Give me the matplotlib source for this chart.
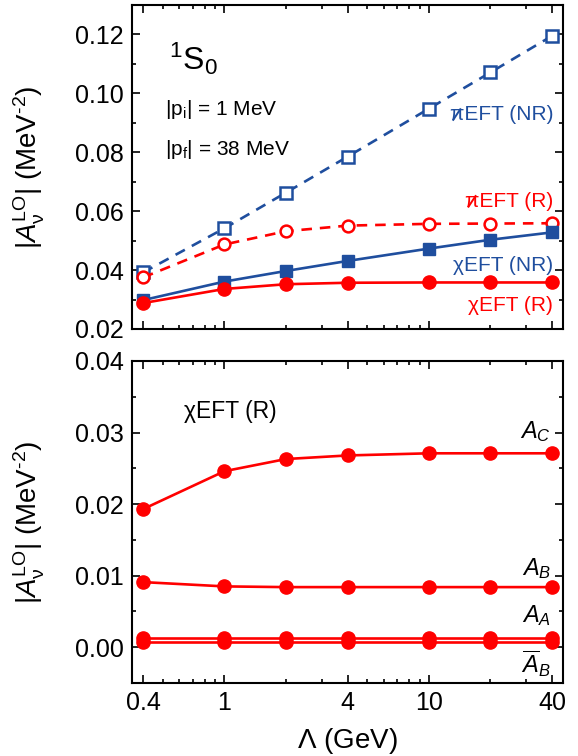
import matplotlib
matplotlib.use("Agg")
import matplotlib.pyplot as plt
from matplotlib.lines import Line2D
from matplotlib.transforms import IdentityTransform
from matplotlib.ticker import FixedLocator, LogLocator, MultipleLocator, NullFormatter, FixedFormatter, FuncFormatter

plt.rcParams['font.family'] = ['Liberation Sans', 'DejaVu Sans']
plt.rcParams['mathtext.fontset'] = 'custom'
plt.rcParams['mathtext.rm'] = 'Liberation Sans'
plt.rcParams['mathtext.it'] = 'Liberation Sans:italic'
plt.rcParams['mathtext.bf'] = 'Liberation Sans:bold'
plt.rcParams['axes.unicode_minus'] = False

# ---------------- data ----------------
lam = [0.4, 1, 2, 4, 10, 20, 40]

pionless_NR = [0.0392, 0.0542, 0.0663, 0.0785, 0.0948, 0.1071, 0.1195]
pionless_R = [0.0375, 0.0487, 0.0532, 0.0551, 0.0557, 0.0558, 0.0559]
chiral_NR = [0.0298, 0.0361, 0.0397, 0.0431, 0.0473, 0.0503, 0.0528]
chiral_R = [0.0288, 0.0336, 0.0352, 0.0357, 0.0358, 0.0358, 0.0358]

A_C = [0.0193, 0.0246, 0.0263, 0.0268, 0.0271, 0.0271, 0.0271]
A_B = [0.0091, 0.0085, 0.0084, 0.0084, 0.0084, 0.0084, 0.0084]
A_A = [0.0013, 0.0013, 0.0013, 0.0013, 0.0013, 0.0013, 0.0013]
Abar_B = [0.0007, 0.0007, 0.0007, 0.0007, 0.0007, 0.0007, 0.0007]

xticks = [0.4, 1, 4, 10, 40]
xticklabels = ['0.4', '1', '4', '10', '40']

RED = '#ff0000'
BLUE = '#1f4e9e'

fig = plt.figure(figsize=(5.78, 7.56), dpi=100)
W, H = 578, 756
ax1 = fig.add_axes([132 / W, 1 - 329 / H, 431 / W, 324 / H])
ax2 = fig.add_axes([132 / W, 1 - 683 / H, 431 / W, 322 / H])

lw = 1.9
ms = 9.5

# top panel
ax1.plot(lam, pionless_NR, ls=(0, (4, 3)), color=BLUE, lw=lw, marker='s', ms=8,
         mfc='white', mec=BLUE, mew=1.8, zorder=3)
ax1.plot(lam, pionless_R, ls=(0, (4, 3)), color=RED, lw=lw, marker='o', ms=8.5,
         mfc='white', mec=RED, mew=1.8, zorder=3)
ax1.plot(lam, chiral_NR, ls='-', color=BLUE, lw=lw, marker='s', ms=8.5,
         mfc=BLUE, mec=BLUE, zorder=4)
ax1.plot(lam, chiral_R, ls='-', color=RED, lw=lw, marker='o', ms=ms,
         mfc=RED, mec=RED, zorder=5)

# bottom panel
for s in (A_C, A_B, A_A, Abar_B):
    ax2.plot(lam, s, ls='-', color=RED, lw=lw, marker='o', ms=ms,
             mfc=RED, mec=RED, zorder=3)

ylab = r'$|A_{\mathrm{\nu}}^{\mathrm{LO}}|$ (MeV$^{\text{-2}}$)'
for ax in (ax1, ax2):
    ax.set_xscale('log')
    ax.set_xlim(0.353, 45.3)
    ax.xaxis.set_major_locator(FixedLocator(xticks))
    ax.xaxis.set_minor_locator(LogLocator(base=10, subs=[2, 3, 4, 5, 6, 7, 8, 9]))
    ax.xaxis.set_minor_formatter(NullFormatter())
    ax.tick_params(which='both', direction='in', top=True, right=True, width=1.2)
    ax.tick_params(which='major', length=6, labelsize=18, pad=6)
    ax.tick_params(which='minor', length=3)
    for sp in ax.spines.values():
        sp.set_linewidth(1.5)
    ax.set_ylabel(ylab, fontsize=20)
    ax.yaxis.set_label_coords(-0.197, 0.5)

ax1.xaxis.set_major_formatter(NullFormatter())
ax2.xaxis.set_major_formatter(FixedFormatter(xticklabels))

ax1.set_ylim(0.02, 0.13)
ax1.yaxis.set_major_locator(MultipleLocator(0.02))
ax1.yaxis.set_minor_locator(MultipleLocator(0.01))
ax1.yaxis.set_major_formatter(FuncFormatter(lambda v, p: f'{v:.2f}'))

ax2.set_ylim(-0.005, 0.04)
ax2.yaxis.set_major_locator(MultipleLocator(0.01))
ax2.yaxis.set_minor_locator(MultipleLocator(0.005))
ax2.yaxis.set_major_formatter(FuncFormatter(lambda v, p: f'{v:.2f}'))

ax2.set_xlabel(r'$\mathrm{\Lambda}$ (GeV)', fontsize=20, labelpad=8)

# top annotations
ax1.text(0.086, 0.80, r'$^{\mathrm{1}}\mathrm{S}_{\mathrm{0}}$', transform=ax1.transAxes,
         fontsize=23, va='baseline', ha='left')
ax1.text(0.077, 0.66, r'$|\mathrm{p}_{\mathrm{i}}|$ = 1 MeV', transform=ax1.transAxes,
         fontsize=15, va='baseline', ha='left')
ax1.text(0.077, 0.537, r'$|\mathrm{p}_{\mathrm{f}}|$ = 38 MeV', transform=ax1.transAxes,
         fontsize=15, va='baseline', ha='left')
pl_nr = ax1.text(0.977, 0.645, 'πEFT (NR)', transform=ax1.transAxes, color=BLUE,
                 fontsize=15, va='baseline', ha='right')
pl_r = ax1.text(0.977, 0.377, 'πEFT (R)', transform=ax1.transAxes, color=RED,
                fontsize=15, va='baseline', ha='right')
ax1.text(0.977, 0.179, 'χEFT (NR)', transform=ax1.transAxes, color=BLUE,
         fontsize=15, va='baseline', ha='right')
ax1.text(0.977, 0.056, 'χEFT (R)', transform=ax1.transAxes, color=RED,
         fontsize=15, va='baseline', ha='right')

# bottom annotations
ax2.text(0.121, 0.823, 'χEFT (R)', transform=ax2.transAxes, color='black',
         fontsize=16.5, va='baseline', ha='left')
ax2.text(0.972, 0.761, r'$A_C$', transform=ax2.transAxes, fontsize=17, va='baseline', ha='right')
ax2.text(0.972, 0.335, r'$A_B$', transform=ax2.transAxes, fontsize=17, va='baseline', ha='right')
ax2.text(0.972, 0.189, r'$A_A$', transform=ax2.transAxes, fontsize=17, va='baseline', ha='right')
ax2.text(0.972, 0.031, r'$\overline{A}_B$', transform=ax2.transAxes, fontsize=17, va='baseline', ha='right')

# slash (drawn as a line) through the pi of the pionless labels
fig.canvas.draw()
renderer = fig.canvas.get_renderer()
probe = fig.text(0, 0, 'π', fontsize=15)
wpi = probe.get_window_extent(renderer).width
probe.remove()
for t, c in ((pl_nr, BLUE), (pl_r, RED)):
    bb = t.get_window_extent(renderer)
    xc = bb.x0 + wpi / 2
    ylo = bb.y0 + bb.height * 0.22
    yhi = bb.y0 + bb.height * 0.78
    fig.add_artist(Line2D([xc - 3.5, xc + 3.5], [ylo, yhi], color=c, lw=1.4,
                          transform=IdentityTransform()))

fig.savefig('out.png', dpi=100)
